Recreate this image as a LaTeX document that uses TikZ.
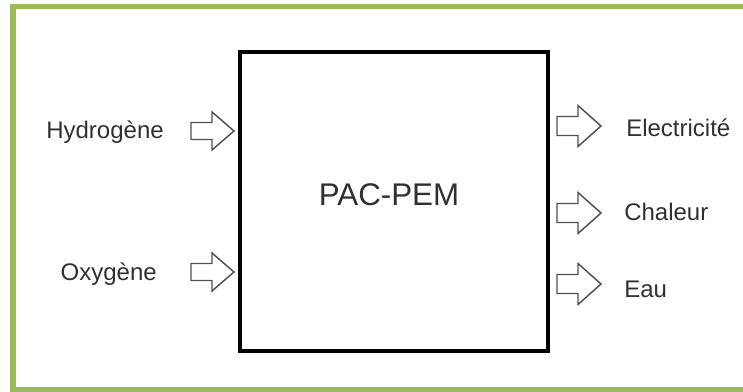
\documentclass[tikz,border=0pt]{standalone}
\usepackage{fontspec}
\setmainfont{Liberation Sans}
\definecolor{frameGreen}{HTML}{9BBB59}
\definecolor{txtGray}{HTML}{303030}
\definecolor{arrGray}{HTML}{505050}
\begin{document}
\begin{tikzpicture}[x=0.75pt,y=-0.75pt,
  lbl/.style={inner sep=0pt,text=txtGray,font=\fontsize{18}{20}\selectfont},
  inarrow/.style={draw=arrGray,line width=1.1pt,line join=miter,fill=white}]
\useasboundingbox (0,0) rectangle (743,392);
% green frame (right side outside the picture)
\draw[frameGreen,line width=3.8pt] (750,6.5) -- (13,6.5) -- (13,390) -- (750,390);
% main box
\node (pac) [draw=black,line width=3pt,minimum width=308*0.75pt,minimum height=298*0.75pt,inner sep=0pt] at (393.5,201.5) {};
\node (pactxt) [inner sep=0pt,text=txtGray,font=\fontsize{23.5}{26}\selectfont] at (389,195) {PAC-PEM};
% labels
\node (h2) [lbl,anchor=east] at (164,132) {Hydrogène};
\node (o2) [lbl,anchor=east] at (157,274) {Oxygène};
\node (el) [lbl,anchor=west] at (626,128) {Electricité};
\node (ch) [lbl,anchor=west] at (624,212) {Chaleur};
\node (eau) [lbl,anchor=west] at (624,289) {Eau};
% arrow anchor coordinates (tails)
\coordinate (a1) at (191,131);
\coordinate (a2) at (191,272);
\coordinate (b1) at (557,126);
\coordinate (b2) at (557,213);
\coordinate (b3) at (557,284);
\foreach \c in {a1,a2}{
  \draw[inarrow] (\c) ++(0,-8.5) -- ++(21,0) -- ++(0,-10.5) -- ++(22,19) -- ++(-22,19) -- ++(0,-10.5) -- ++(-21,0) -- cycle;
}
\foreach \c in {b1,b2,b3}{
  \draw[inarrow] (\c) ++(0,-9.5) -- ++(21,0) -- ++(0,-11) -- ++(23,20.5) -- ++(-23,20.5) -- ++(0,-11) -- ++(-21,0) -- cycle;
}
\end{tikzpicture}
\end{document}
